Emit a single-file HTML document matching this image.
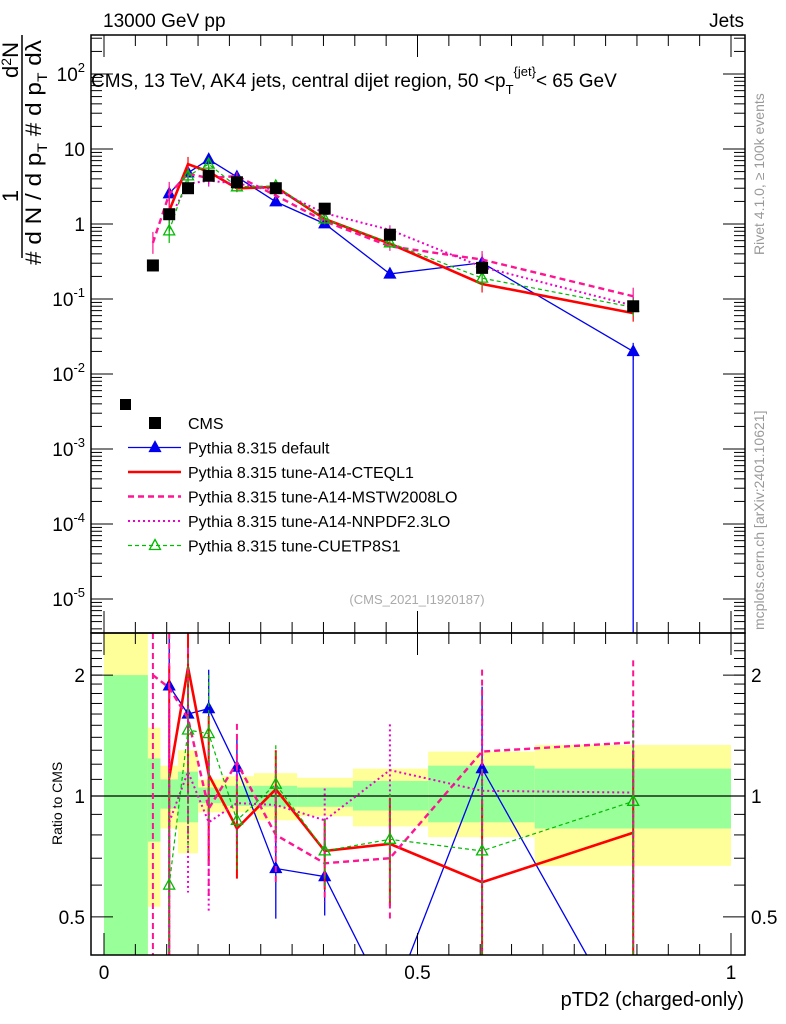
<!DOCTYPE html>
<html><head><meta charset="utf-8"><style>
body{margin:0;background:#fff;}
svg{display:block;font-family:"Liberation Sans",sans-serif;}
</style></head><body>
<svg id="c" width="786" height="1024" viewBox="0 0 786 1024" xmlns="http://www.w3.org/2000/svg">
<text x="103" y="27" font-size="19">13000 GeV pp</text>
<text x="744" y="27" font-size="19" text-anchor="end">Jets</text>
<text x="91" y="87" font-size="19">CMS, 13 TeV, AK4 jets, central dijet region, 50 &lt;p<tspan dy="7" font-size="13">T</tspan><tspan dy="-18" font-size="13">{jet}</tspan><tspan dy="11">&lt; 65 GeV</tspan></text>
<text transform="translate(764,255) rotate(-90)" font-size="14" fill="#999">Rivet 4.1.0, ≥ 100k events</text>
<text transform="translate(764,630) rotate(-90)" font-size="14" fill="#999">mcplots.cern.ch [arXiv:2401.10621]</text>
<text x="417" y="604" font-size="13" fill="#aaa" text-anchor="middle">(CMS_2021_I1920187)</text>
<g font-size="22">
<line x1="22" y1="35" x2="22" y2="258" stroke="#000" stroke-width="1.5"/>
<text transform="translate(41,265) rotate(-90)" textLength="225" lengthAdjust="spacingAndGlyphs"># d N / d p<tspan dy="6" font-size="14">T</tspan><tspan dy="-6"> # d p</tspan><tspan dy="6" font-size="14">T</tspan><tspan dy="-6"> dλ</tspan></text>
<text transform="translate(18,196) rotate(-90)" text-anchor="middle">1</text>
<text transform="translate(18,60) rotate(-90)" text-anchor="middle">d<tspan dy="-7" font-size="14">2</tspan><tspan dy="7">N</tspan></text>
</g>
<text x="62" y="845" font-size="14" transform="rotate(-90,62,845)" text-anchor="start">Ratio to CMS</text>
<text x="744" y="1006" font-size="20" text-anchor="end">pTD2 (charged-only)</text>
<g id="g"></g>
</svg>
<script>
const xs=[0.078,0.104,0.134,0.167,0.212,0.274,0.352,0.456,0.603,0.844];
const edges=[0,0.07,0.09,0.118,0.15,0.188,0.239,0.308,0.397,0.517,0.687,1];
const cms=[0.28,1.35,3.0,4.4,3.6,3.0,1.6,0.72,0.26,0.08];
const yelHi=[3,1.48,1.19,1.3,1.1,1.12,1.14,1.11,1.17,1.29,1.34];
const yelLo=[0.3,0.53,0.83,0.72,0.91,0.91,0.87,0.89,0.84,0.79,0.67];
const grnHi=[2.0,1.24,1.1,1.15,1.05,1.06,1.06,1.05,1.09,1.19,1.17];
const grnLo=[0.3,0.77,0.93,0.86,0.96,0.945,0.94,0.94,0.92,0.86,0.83];
const rDefault=[null,1.88,1.6,1.65,1.18,0.66,0.63,0.3,1.17,0.25];
const rA14=[null,1.11,2.09,1.13,0.83,1.04,0.73,0.76,0.61,0.81];
const rMSTW=[2.0,1.86,1.56,0.93,1.21,0.8,0.68,0.70,1.29,1.36];
const rNNPDF=[null,0.86,1.15,0.86,0.96,0.95,0.87,1.16,1.03,1.02];
const rCUETP=[null,0.6,1.46,1.43,0.87,1.07,0.73,0.78,0.73,0.97];
const eDefault=[0,0.5,0.3,0.25,0.2,0.25,0.2,0.3,0.6,0.6];
const eOther=[0.8,0.9,0.5,0.4,0.25,0.25,0.2,0.3,0.6,0.6];
const g=document.getElementById('g');
const NS='http://www.w3.org/2000/svg';
const L=91,R=745,T=35,M=633,B=955;
const X=v=>104+627*v;
const Ym=v=>224-75*Math.log10(v);
const Yr=v=>Math.max(T+598,Math.min(B,796-401.6*Math.log10(v)));
function el(t,a,p){const e=document.createElementNS(NS,t);for(const k in a)e.setAttribute(k,a[k]);(p||g).appendChild(e);return e;}
const defs=el('defs',{});
const c1=el('clipPath',{id:'cm'},defs);el('rect',{x:L,y:T,width:R-L,height:M-T},c1);
const c2=el('clipPath',{id:'cr'},defs);el('rect',{x:L,y:M,width:R-L,height:B-M},c2);
const main=el('g',{'clip-path':'url(#cm)'});


const rat=el('g',{'clip-path':'url(#cr)'});


for(let i=0;i<yelHi.length;i++){
 const x0=X(edges[i]),x1=X(edges[i+1]);
 const y=el('rect',{x:x0,y:Yr(yelHi[i]),width:x1-x0,height:Yr(yelLo[i])-Yr(yelHi[i]),fill:'#ffff99'},rat);
 
 
 const gr=el('rect',{x:x0,y:Yr(grnHi[i]),width:x1-x0,height:Yr(grnLo[i])-Yr(grnHi[i]),fill:'#99ff99'},rat);
 
 
}
el('line',{x1:L,x2:R,y1:796,y2:796,stroke:'#000','stroke-width':1.2},rat);
const series=[
 {n:'default',r:rDefault,e:eDefault,c:'#0000ee',w:1.3,d:'',m:'tri'},
 {n:'a14-cteql1',r:rA14,e:eOther,c:'#ff0000',w:2.6,d:'',m:''},
 {n:'a14-mstw2008lo',r:rMSTW,e:eOther,c:'#ff1493',w:2.4,d:'6,4',m:''},
 {n:'a14-nnpdf23lo',r:rNNPDF,e:eOther,c:'#ee00cc',w:2,d:'2,3',m:''},
 {n:'cuetp8s1',r:rCUETP,e:eOther,c:'#00bb00',w:1.2,d:'4,3',m:'otri'}];
function tri(p,x,y,c,open,name){const t=el('path',{d:`M${x},${y-6}L${x+5.5},${y+4}L${x-5.5},${y+4}Z`,fill:open?'none':c,stroke:c,'stroke-width':1.3},p);}
series.forEach(s=>{
 let pm='',pr='';
 s.r.forEach((r,i)=>{if(r==null)return;const v=cms[i]*r;
  pm+=(pm?'L':'M')+X(xs[i])+','+Ym(v);pr+=(pr?'L':'M')+X(xs[i])+','+(796-401.6*Math.log10(r));
  const lo=Math.max(r-s.e[i]*r,0.05),hi=r+s.e[i]*r;
  const eb=el('line',{x1:X(xs[i]),x2:X(xs[i]),y1:Yr(hi),y2:Yr(lo),stroke:s.c,'stroke-width':Math.min(s.w,2),'stroke-dasharray':s.d},rat);
  
  const eb2=el('line',{x1:X(xs[i]),x2:X(xs[i]),y1:Ym(v*(1+s.e[i]*0.5)),y2:Ym(v/(1+s.e[i]*0.5)),stroke:s.c,'stroke-width':1.2},main);
  
  if(s.m){tri(main,X(xs[i]),Ym(v),s.c,s.m=='otri','marker-'+s.n);tri(rat,X(xs[i]),796-401.6*Math.log10(r),s.c,s.m=='otri','ratio-marker-'+s.n);}
 });
 const a=el('path',{d:pm,fill:'none',stroke:s.c,'stroke-width':s.w,'stroke-dasharray':s.d},main);
 
 const b=el('path',{d:pr,fill:'none',stroke:s.c,'stroke-width':s.w,'stroke-dasharray':s.d},rat);
 
});
const drop=el('line',{x1:X(xs[9]),x2:X(xs[9]),y1:Ym(cms[9]*rDefault[9]),y2:M,stroke:'#0000ee','stroke-width':1.3},main);

cms.forEach((v,i)=>{const r=el('rect',{x:X(xs[i])-6,y:Ym(v)-6,width:12,height:12,fill:'#000'},main);
 });
const f1=el('rect',{x:L,y:T,width:R-L,height:M-T,fill:'none',stroke:'#000','stroke-width':1.5});

const f2=el('rect',{x:L,y:M,width:R-L,height:B-M,fill:'none',stroke:'#000','stroke-width':1.5});

for(let e=-6;e<=2;e++){for(let k=1;k<10;k++){const v=k*Math.pow(10,e);const y=Ym(v);if(y<T||y>M)continue;
 const len=k==1?22:11;el('line',{x1:L,x2:L+len,y1:y,y2:y,stroke:'#000'});el('line',{x1:R,x2:R-len,y1:y,y2:y,stroke:'#000'});}
}
[-5,-4,-3,-2,-1,0,1,2].forEach((e,i)=>{const y=Ym(Math.pow(10,e));
 const t=el('text',{x:85,y:y+7,'font-size':19,'text-anchor':'end'});
 
 if(e<0||e>1){t.innerHTML='10<tspan dy="-9" font-size="13">'+e+'</tspan>';}else t.textContent=e==0?'1':'10';});
[0.4,0.5,0.6,0.7,0.8,0.9,1,2].forEach(v=>{const y=Yr(v);const len=(v==0.5||v==1||v==2)?22:11;
 el('line',{x1:L,x2:L+len,y1:y,y2:y,stroke:'#000'});el('line',{x1:R,x2:R-len,y1:y,y2:y,stroke:'#000'});});
for(let v=1.1;v<2.5;v+=0.1){const y=Yr(v);if(y<M)continue;el('line',{x1:L,x2:L+11,y1:y,y2:y,stroke:'#000'});el('line',{x1:R,x2:R-11,y1:y,y2:y,stroke:'#000'});}
const rlab=['0.5','1','2'];const rval=[0.5,1,2];
rval.forEach((v,i)=>{[[85,'end'],[751,'start']].forEach(([x,a])=>{const t=el('text',{x:x,y:Yr(v)+7,'font-size':19,'text-anchor':a});t.textContent=rlab[i];
 });});
for(let v=0;v<=1.0001;v+=0.05){const x=X(v);const big=Math.abs(v*2-Math.round(v*2))<1e-6;const len=big?22:11;
 el('line',{x1:x,x2:x,y1:B,y2:B-len,stroke:'#000'});el('line',{x1:x,x2:x,y1:M,y2:M-len,stroke:'#000'});el('line',{x1:x,x2:x,y1:T,y2:T+len,stroke:'#000'});el('line',{x1:x,x2:x,y1:M,y2:M+len,stroke:'#000'});}
const xlab=['0','0.5','1'];[0,0.5,1].forEach((v,i)=>{const t=el('text',{x:X(v),y:979,'font-size':19,'text-anchor':'middle'});t.textContent=xlab[i];
 });
const leg=[['CMS','#000','','sq',1],['Pythia 8.315 default','#0000ee','','tri',1.3],['Pythia 8.315 tune-A14-CTEQL1','#ff0000','','',2.6],['Pythia 8.315 tune-A14-MSTW2008LO','#ff1493','6,4','',2.4],['Pythia 8.315 tune-A14-NNPDF2.3LO','#ee00cc','2,3','',2],['Pythia 8.315 tune-CUETP8S1','#00bb00','4,3','otri',1.2]];
el('rect',{x:120,y:399,width:11,height:11,fill:'#000'});
leg.forEach((l,i)=>{const y=423+24.5*i;
 const gg=el('g',{});
 if(l[3]=='sq')el('rect',{x:149,y:y-6,width:12,height:12,fill:'#000'},gg);
 else{el('line',{x1:128,x2:181,y1:y,y2:y,stroke:l[1],'stroke-width':l[4],'stroke-dasharray':l[2]},gg);
  if(l[3])tri(gg,155,y,l[1],l[3]=='otri','legend-marker');}
 const t=el('text',{x:188,y:y+6,'font-size':16},gg);t.textContent=l[0];});
</script>
</body></html>
